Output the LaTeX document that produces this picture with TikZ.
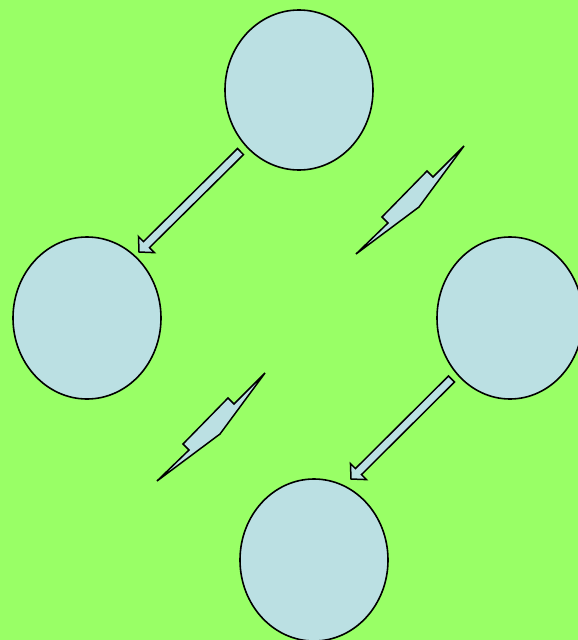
\documentclass[tikz,border=0pt]{standalone}
\definecolor{bggreen}{RGB}{153,255,102}
\definecolor{paleblue}{RGB}{187,224,227}
\tikzset{
  blob/.style={draw=black, fill=paleblue, line width=1.6pt, ellipse, inner sep=0pt},
  shapeline/.style={draw=black, fill=paleblue, line width=1.5pt, line join=miter},
}
\usetikzlibrary{shapes.geometric}
\newcommand\blockarrow[3]{%
  \begin{scope}[shift={#1}, rotate=#2]
    \draw[shapeline] (0,0) -- (-10.5,11.3) -- (-10.5,4.25) -- (-#3,4.25)
      -- (-#3,-4.25) -- (-10.5,-4.25) -- (-10.5,-11.3) -- cycle;
  \end{scope}}
\newcommand\bolt[1]{%
  \begin{scope}[shift={#1}]
    \draw[shapeline] (464,-146) -- (433,-177) -- (427,-171) -- (382,-217)
      -- (388,-223) -- (356,-254) -- (419,-207) -- cycle;
  \end{scope}}
\begin{document}
\begin{tikzpicture}[x=1pt,y=1pt]
  \useasboundingbox (0,0) rectangle (578,-640);
  \fill[bggreen] (0,0) rectangle (578,-640);
  \clip (0,0) rectangle (578,-640);
  \node[blob, minimum width=148pt, minimum height=160pt] (top) at (299,-90) {};
  \node[blob, minimum width=148pt, minimum height=162pt] (left) at (87,-318) {};
  \node[blob, minimum width=146pt, minimum height=162pt] (right) at (510,-318) {};
  \node[blob, minimum width=148pt, minimum height=162pt] (bottom) at (314,-560) {};
  \coordinate (a1tip) at (139,-252);
  \coordinate (a2tip) at (351,-479);
  \blockarrow{(a1tip)}{224.7}{142.8}
  \blockarrow{(a2tip)}{224.86}{141.8}
  \bolt{(0,0)}
  \bolt{(-199,-227)}
\end{tikzpicture}
\end{document}
